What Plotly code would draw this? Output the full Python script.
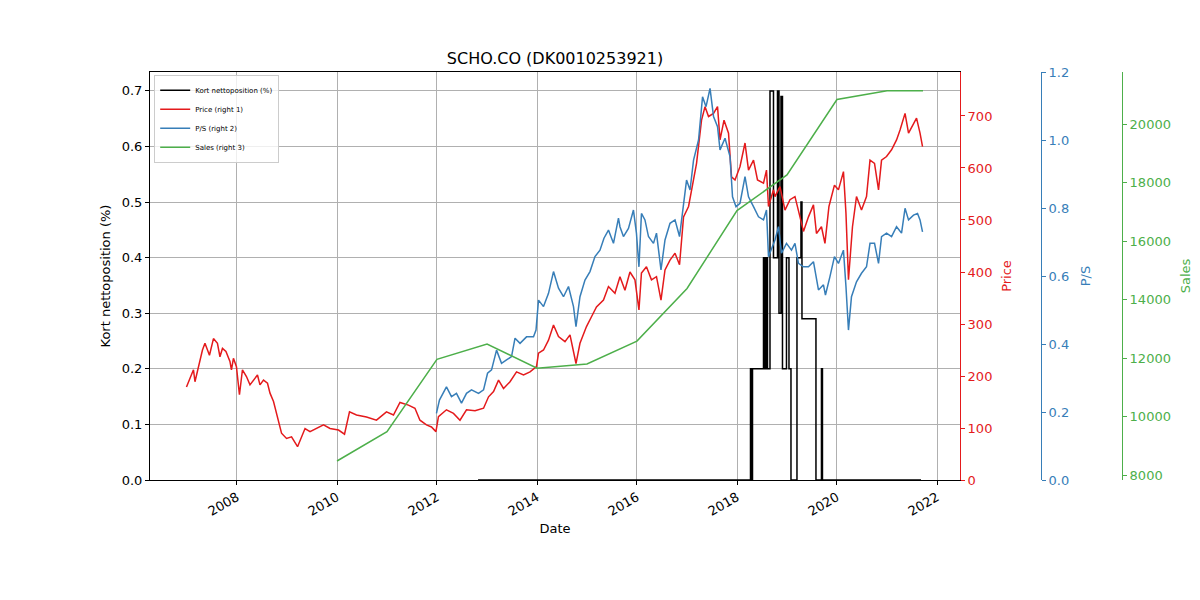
import plotly.graph_objects as go
import pandas as pd

# ---------------- data (dates as decimal years) ----------------
price_t = [2006.99, 2007.13, 2007.16, 2007.31, 2007.36, 2007.45, 2007.53, 2007.61, 2007.66, 2007.71,
           2007.78, 2007.86, 2007.89, 2007.93, 2007.99, 2008.05, 2008.11, 2008.19, 2008.26, 2008.33,
           2008.41, 2008.46, 2008.53, 2008.61, 2008.66, 2008.73, 2008.83, 2008.89, 2008.99, 2009.09,
           2009.21, 2009.36, 2009.46, 2009.59, 2009.73, 2009.86, 2010.03, 2010.15, 2010.25, 2010.39,
           2010.59, 2010.79, 2010.99, 2011.13, 2011.26, 2011.43, 2011.56, 2011.66, 2011.79, 2011.89,
           2011.98, 2012.03, 2012.19, 2012.33, 2012.46, 2012.59, 2012.76, 2012.93, 2013.03, 2013.13,
           2013.23, 2013.33, 2013.46, 2013.59, 2013.73, 2013.86, 2013.99, 2014.03, 2014.13, 2014.23,
           2014.33, 2014.43, 2014.56, 2014.66, 2014.78, 2014.86, 2014.99, 2015.09, 2015.19, 2015.33,
           2015.43, 2015.56, 2015.66, 2015.76, 2015.86, 2015.96, 2016.04, 2016.09, 2016.19, 2016.29,
           2016.39, 2016.48, 2016.56, 2016.66, 2016.76, 2016.85, 2016.93, 2017.03, 2017.09, 2017.19,
           2017.29, 2017.36, 2017.43, 2017.53, 2017.61, 2017.66, 2017.74, 2017.83, 2017.89, 2017.96,
           2018.06, 2018.16, 2018.23, 2018.33, 2018.41, 2018.53, 2018.59, 2018.63, 2018.73, 2018.76,
           2018.86, 2018.96, 2019.06, 2019.16, 2019.26, 2019.33, 2019.43, 2019.53, 2019.59, 2019.69,
           2019.76, 2019.84, 2019.95, 2020.03, 2020.13, 2020.18, 2020.23, 2020.31, 2020.39, 2020.49,
           2020.59, 2020.66, 2020.75, 2020.83, 2020.89, 2020.99, 2021.09, 2021.19, 2021.26, 2021.36,
           2021.43, 2021.53, 2021.59, 2021.66, 2021.71]
price_v = [179, 212, 189, 250, 263, 240, 272, 263, 237, 253,
           247, 228, 212, 234, 218, 164, 212, 199, 183, 192,
           202, 183, 192, 186, 167, 151, 115, 90, 80, 83,
           64, 99, 93, 99, 106, 99, 96, 88, 131, 125,
           121, 115, 131, 125, 149, 144, 138, 115, 106, 102,
           93, 122, 135, 128, 115, 135, 133, 138, 160, 170,
           192, 176, 189, 208, 202, 208, 218, 244, 250, 269,
           298, 276, 266, 279, 224, 263, 295, 314, 333, 346,
           372, 359, 391, 365, 400, 385, 327, 398, 410, 385,
           391, 346, 404, 423, 436, 414, 506, 526, 558, 609,
           692, 718, 699, 705, 718, 654, 692, 667, 583, 577,
           603, 648, 596, 615, 577, 571, 596, 526, 558, 545,
           564, 519, 539, 545, 506, 478, 506, 529, 474, 487,
           455, 526, 567, 558, 593, 513, 385, 487, 545, 519,
           545, 615, 609, 558, 615, 622, 635, 654, 673, 705,
           667, 686, 696, 667, 641]

ps_t = [2011.99, 2012.05, 2012.19, 2012.29, 2012.39, 2012.49, 2012.59, 2012.69, 2012.83, 2012.93,
        2013.01, 2013.09, 2013.19, 2013.29, 2013.39, 2013.49, 2013.56, 2013.66, 2013.79, 2013.93,
        2013.98, 2014.03, 2014.13, 2014.23, 2014.33, 2014.43, 2014.53, 2014.63, 2014.73, 2014.78,
        2014.86, 2014.96, 2015.06, 2015.16, 2015.26, 2015.34, 2015.43, 2015.53, 2015.63, 2015.66,
        2015.73, 2015.83, 2015.93, 2015.99, 2016.04, 2016.09, 2016.16, 2016.23, 2016.33, 2016.39,
        2016.48, 2016.56, 2016.66, 2016.76, 2016.85, 2016.93, 2016.99, 2017.06, 2017.13, 2017.23,
        2017.31, 2017.38, 2017.46, 2017.53, 2017.61, 2017.66, 2017.76, 2017.86, 2017.91, 2017.98,
        2018.06, 2018.16, 2018.23, 2018.33, 2018.43, 2018.53, 2018.59, 2018.63, 2018.73, 2018.76,
        2018.83, 2018.89, 2018.99, 2019.09, 2019.16, 2019.23, 2019.33, 2019.43, 2019.53, 2019.63,
        2019.73, 2019.77, 2019.86, 2019.95, 2020.03, 2020.13, 2020.18, 2020.23, 2020.29, 2020.39,
        2020.49, 2020.59, 2020.66, 2020.75, 2020.83, 2020.89, 2020.99, 2021.09, 2021.19, 2021.29,
        2021.36, 2021.43, 2021.53, 2021.61, 2021.66, 2021.71]
ps_v = [0.196, 0.235, 0.274, 0.245, 0.255, 0.226, 0.255, 0.265, 0.255, 0.265,
        0.314, 0.324, 0.382, 0.343, 0.353, 0.363, 0.417, 0.402, 0.421, 0.421,
        0.441, 0.529, 0.510, 0.549, 0.613, 0.564, 0.539, 0.569, 0.510, 0.451,
        0.539, 0.588, 0.613, 0.657, 0.676, 0.711, 0.735, 0.696, 0.770, 0.745,
        0.716, 0.740, 0.794, 0.726, 0.627, 0.784, 0.765, 0.716, 0.696, 0.726,
        0.618, 0.706, 0.755, 0.765, 0.716, 0.804, 0.882, 0.853, 0.941, 1.000,
        1.127, 1.098, 1.152, 1.069, 1.039, 0.971, 1.005, 0.951, 0.833, 0.804,
        0.814, 0.892, 0.833, 0.804, 0.774, 0.765, 0.794, 0.657, 0.696, 0.706,
        0.745, 0.667, 0.696, 0.676, 0.696, 0.637, 0.627, 0.627, 0.642, 0.559,
        0.574, 0.544, 0.598, 0.657, 0.637, 0.676, 0.569, 0.441, 0.539, 0.583,
        0.608, 0.627, 0.696, 0.696, 0.637, 0.716, 0.726, 0.716, 0.745, 0.726,
        0.799, 0.765, 0.779, 0.784, 0.765, 0.730]

sales_t = [2010.0, 2011.0, 2012.0, 2013.0, 2014.0, 2015.0, 2016.0, 2017.0, 2018.0, 2019.0,
           2020.0, 2021.0, 2021.72]
sales_v = [8480, 9480, 11955, 12480, 11650, 11800, 12580, 14380, 17040, 18260,
           20840, 21140, 21140]

short_t = [2012.82, 2018.27, 2018.29, 2018.31, 2018.53, 2018.56, 2018.58, 2018.61, 2018.66, 2018.73,
           2018.81, 2018.84, 2018.88, 2018.91, 2018.99, 2019.04, 2019.08, 2019.20, 2019.28, 2019.30,
           2019.58, 2019.69, 2019.71, 2021.68]
short_v = [0.0, 0.2, 0.0, 0.2, 0.4, 0.2, 0.4, 0.2, 0.7, 0.4,
           0.7, 0.3, 0.69, 0.2, 0.4, 0.2, 0.0, 0.4, 0.5, 0.29,
           0.0, 0.2, 0.0, 0.0]

title_text = "SCHO.CO (DK0010253921)"


def to_date(t):
    y = int(t)
    start = pd.Timestamp(year=y, month=1, day=1)
    end = pd.Timestamp(year=y + 1, month=1, day=1)
    return start + (end - start) * (t - y)


def dates(ts):
    return [to_date(t) for t in ts]


RED = "#e41a1c"
BLUE = "#377eb8"
GREEN = "#4daf4a"
FONT = "DejaVu Sans"

fig = go.Figure()
fig.add_trace(go.Scatter(x=dates(short_t), y=short_v, mode="lines", line=dict(color="black", width=1.5, shape="hv"),
                         name="Kort nettoposition (%)", yaxis="y"))
fig.add_trace(go.Scatter(x=dates(price_t), y=price_v, mode="lines", line=dict(color=RED, width=1.5),
                         name="Price (right 1)", yaxis="y2"))
fig.add_trace(go.Scatter(x=dates(ps_t), y=ps_v, mode="lines", line=dict(color=BLUE, width=1.5),
                         name="P/S (right 2)", yaxis="y3"))
fig.add_trace(go.Scatter(x=dates(sales_t), y=sales_v, mode="lines", line=dict(color=GREEN, width=1.5),
                         name="Sales (right 3)", yaxis="y4"))

W_PLOT = 1050.0
dom_end = 810.0 / W_PLOT
pos3 = 891.0 / W_PLOT
pos4 = 972.0 / W_PLOT

tickfont = dict(family=FONT, size=13)

fig.update_layout(
    width=1200, height=600,
    margin=dict(l=150, r=0, t=72, b=120),
    paper_bgcolor="white", plot_bgcolor="white",
    font=dict(family=FONT, size=13, color="black"),
    title=dict(text=title_text, x=(555 - 150) / W_PLOT, xref="paper", xanchor="center",
               y=1 - 58 / 600, yref="container", yanchor="middle",
               font=dict(family=FONT, size=16, color="black")),
    showlegend=True,
    legend=dict(x=0.004, y=0.993, xanchor="left", yanchor="top", bgcolor="rgba(255,255,255,0.8)",
                bordercolor="#cccccc", borderwidth=1, font=dict(family=FONT, size=7),
                itemwidth=30, tracegroupgap=0),
    xaxis=dict(domain=[0, dom_end], range=[to_date(2006.26), to_date(2022.46)],
               type="date", tickformat="%Y", dtick="M24", tick0="2008-01-01",
               tickangle=-30, ticks="outside", ticklen=4, tickwidth=1, tickcolor="black",
               showgrid=True, gridcolor="#b0b0b0", gridwidth=1,
               showline=True, linecolor="black", linewidth=1, mirror=True,
               tickfont=tickfont, title=dict(text="Date", font=dict(family=FONT, size=13), standoff=6),
               zeroline=False),
    yaxis=dict(range=[0, 0.734], dtick=0.1, tick0=0, tickformat=".1f",
               ticks="outside", ticklen=4, tickwidth=1, tickcolor="black",
               showgrid=True, gridcolor="#b0b0b0", gridwidth=1,
               showline=True, linecolor="black", linewidth=1,
               tickfont=tickfont, zeroline=False,
               title=dict(text="Kort nettoposition (%)", font=dict(family=FONT, size=13), standoff=8)),
    yaxis2=dict(overlaying="y", side="right", anchor="x", range=[0, 784.6], dtick=100, tick0=0,
                ticks="outside", ticklen=4, tickwidth=1, tickcolor=RED,
                showgrid=False, showline=True, linecolor=RED, linewidth=1, zeroline=False,
                tickfont=dict(family=FONT, size=13, color=RED),
                title=dict(text="Price", font=dict(family=FONT, size=13, color=RED), standoff=10)),
    yaxis3=dict(overlaying="y", side="right", anchor="free", position=pos3, range=[0, 1.2],
                dtick=0.2, tick0=0, tickformat=".1f",
                ticks="outside", ticklen=4, tickwidth=1, tickcolor=BLUE,
                showgrid=False, showline=True, linecolor=BLUE, linewidth=1, zeroline=False,
                tickfont=dict(family=FONT, size=13, color=BLUE),
                title=dict(text="P/S", font=dict(family=FONT, size=13, color=BLUE), standoff=12)),
    yaxis4=dict(overlaying="y", side="right", anchor="free", position=pos4, range=[7830, 21780],
                dtick=2000, tick0=8000, tickformat="d",
                ticks="outside", ticklen=4, tickwidth=1, tickcolor=GREEN,
                showgrid=False, showline=True, linecolor=GREEN, linewidth=1, zeroline=False,
                tickfont=dict(family=FONT, size=13, color=GREEN),
                title=dict(text="Sales", font=dict(family=FONT, size=13, color=GREEN), standoff=10)),
)

fig.write_html("out.html")
